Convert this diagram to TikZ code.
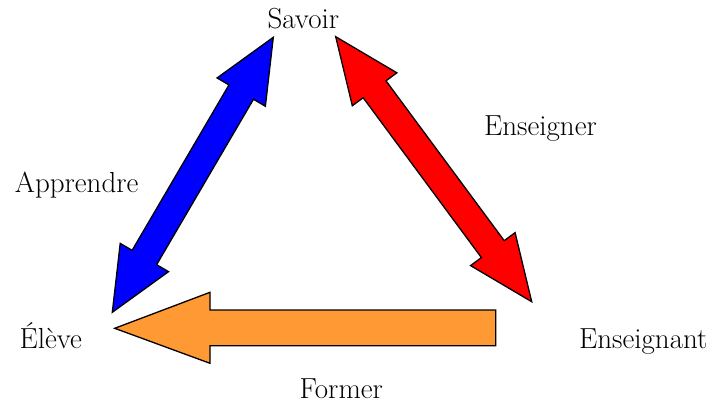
\documentclass[tikz,border=0pt]{standalone}
\usetikzlibrary{calc}
\definecolor{arrblue}{RGB}{0,0,255}
\definecolor{arrred}{RGB}{255,0,0}
\definecolor{arrorange}{RGB}{255,153,51}
\tikzset{
  txtlabel/.style={anchor=base,inner sep=0pt,font=\fontsize{29}{34}\selectfont},
  arrowshape/.style={draw=black,line width=1.3pt,line join=miter},
}
% double block arrow between two named coordinates
\newcommand{\dblarr}[6]{% color, A, B, head length, head half width, shaft half width
  \coordinate (HA) at ($(#2)!#4!(#3)$);
  \coordinate (HB) at ($(#3)!#4!(#2)$);
  \filldraw[arrowshape,fill=#1] (#2)
    -- ($(HA)!#5!90:(#3)$) -- ($(HA)!#6!90:(#3)$)
    -- ($(HB)!#6!-90:(#2)$) -- ($(HB)!#5!-90:(#2)$)
    -- (#3)
    -- ($(HB)!#5!90:(#2)$) -- ($(HB)!#6!90:(#2)$)
    -- ($(HA)!#6!-90:(#3)$) -- ($(HA)!#5!-90:(#3)$)
    -- cycle;
}
\begin{document}
\begin{tikzpicture}[x=1pt,y=-1pt]
\useasboundingbox (0,0) rectangle (718,405);
% labels
\node[txtlabel] (savoir) at (303.3,28.3) {Savoir};
\node[txtlabel] (apprendre) at (76.7,192.3) {Apprendre};
\node[txtlabel] (enseigner) at (540.5,135) {Enseigner};
\node[txtlabel] (eleve) at (50.8,348.3) {Élève};
\node[txtlabel] (enseignant) at (643.3,348.3) {Enseignant};
\node[txtlabel] (former) at (341.3,398.3) {Former};
% arrow end points
\coordinate (bA) at (112.3,312.3);
\coordinate (bB) at (273.3,37.3);
\coordinate (rA) at (335.7,36.7);
\coordinate (rB) at (531.7,301.7);
\coordinate (oTip) at (114.7,328.3);
\coordinate (oEnd) at (495.7,328);
% blue double arrow (Apprendre)
\dblarr{arrblue}{bA}{bB}{63.5pt}{28pt}{14.2pt}
% red double arrow (Enseigner)
\dblarr{arrred}{rA}{rB}{65.4pt}{27.7pt}{14.2pt}
% orange single arrow (Former)
\filldraw[arrowshape,fill=arrorange] (oTip)
  -- ($(oTip)+(95.3,-36)$) -- ($(oTip)+(95.3,-18.3)$)
  -- ($(oEnd)+(0,-18)$) -- ($(oEnd)+(0,17.7)$)
  -- ($(oTip)+(95.3,17.4)$) -- ($(oTip)+(95.3,35)$) -- cycle;
\end{tikzpicture}
\end{document}
